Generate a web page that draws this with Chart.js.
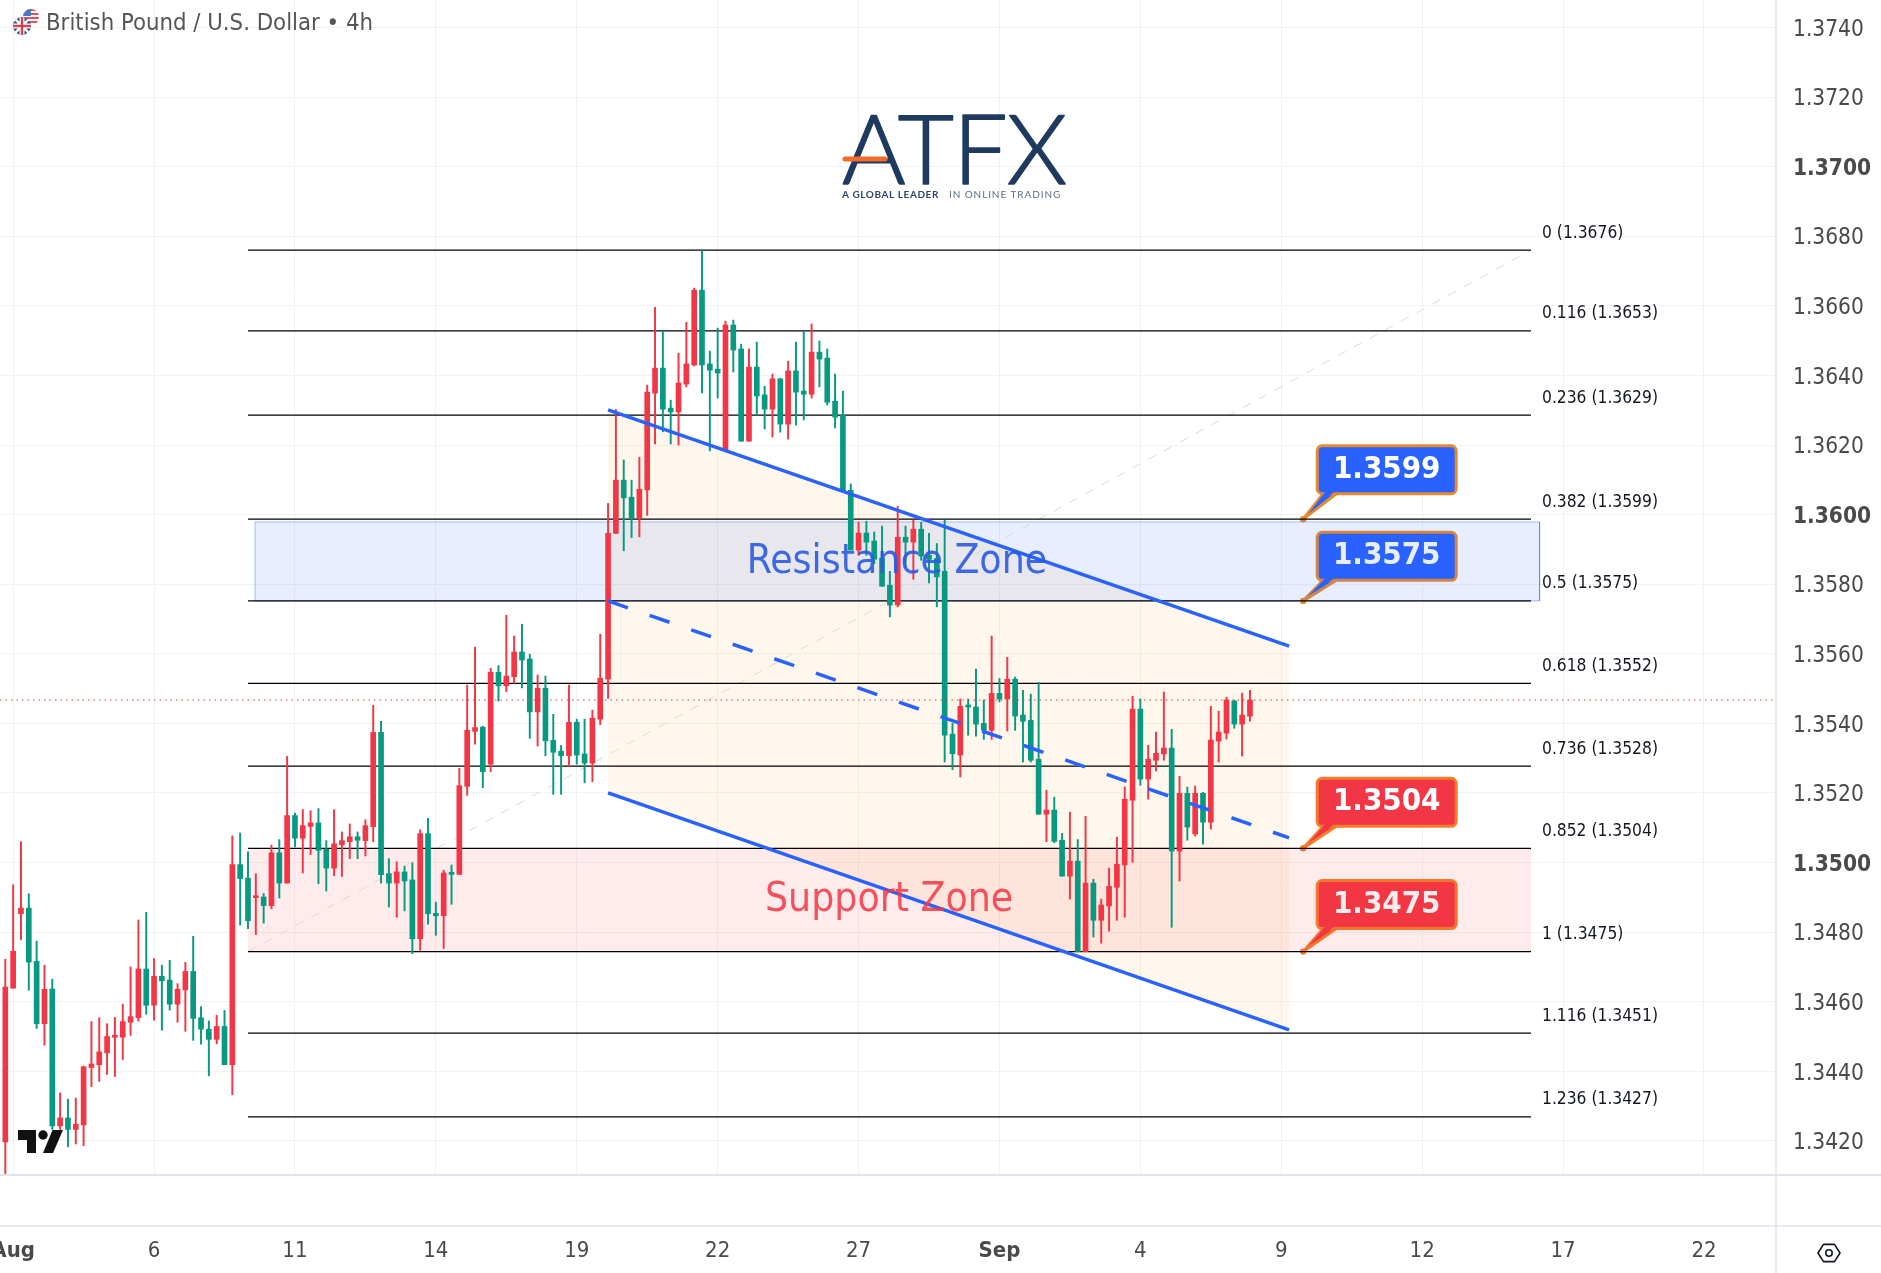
<!DOCTYPE html>
<html>
<head>
<meta charset="utf-8">
<title>British Pound / U.S. Dollar 4h</title>
<script src="https://cdn.jsdelivr.net/npm/chart.js@4"></script>
<style>
  html, body { margin: 0; padding: 0; background: #fff; }
  canvas { display: block; }
</style>
</head>
<body>
<canvas id="fx" width="1881" height="1273"></canvas>
<script>
/* candles, one 4h bar per index */
const opens = [
  1.34197,1.34639,1.34853,1.34869,1.34716,1.34537,1.34636,1.34243,1.34266,1.34233,
  1.34246,1.34411,1.34419,1.34453,1.34498,1.34498,1.34541,1.34554,1.34694,1.34590,
  1.34673,1.34662,1.34593,1.34634,1.34687,1.34554,1.34521,1.34492,1.34529,1.34419,
  1.34994,1.34955,1.34899,1.34901,1.34876,1.35028,1.34941,1.35135,1.35070,1.35104,
  1.35114,1.35038,1.34984,1.35051,1.35060,1.35074,1.35063,1.35103,1.35374,1.34968,
  1.34941,1.34973,1.34950,1.34781,1.35083,1.34854,1.34847,1.34969,1.34966,1.35219,
  1.35377,1.35389,1.35283,1.35547,1.35508,1.35534,1.35605,1.35585,1.35433,1.35501,
  1.35351,1.35320,1.35307,1.35403,1.35312,1.35286,1.35412,1.35527,1.35946,1.36099,
  1.36050,1.35989,1.36071,1.36349,1.36421,1.36306,1.36295,1.36375,1.36430,1.36645,
  1.36433,1.36418,1.36185,1.36545,1.36476,1.36211,1.36424,1.36344,1.36303,1.36390,
  1.36260,1.36413,1.36355,1.36346,1.36467,1.36450,1.36326,1.36286,1.36070,1.35898,
  1.35947,1.35924,1.35875,1.35797,1.35740,1.35935,1.35921,1.35958,1.35883,1.35874,
  1.35837,1.35369,1.35309,1.35449,1.35447,1.35400,1.35380,1.35486,1.35470,1.35527,
  1.35424,1.35409,1.35297,1.35139,1.35151,1.35064,1.34961,1.35004,1.34744,1.34941,
  1.34834,1.34875,1.34929,1.34993,1.35179,1.35441,1.35240,1.35294,1.35312,1.35329,
  1.35033,1.35199,1.35082,1.35199,1.35116,1.35349,1.35372,1.35464,1.35398,1.35421
];
const closes = [
  1.34642,1.34745,1.34869,1.34714,1.34537,1.34636,1.34243,1.34266,1.34233,1.34248,
  1.34413,1.34421,1.34456,1.34500,1.34500,1.34543,1.34557,1.34694,1.34590,1.34673,
  1.34660,1.34593,1.34636,1.34687,1.34552,1.34521,1.34492,1.34529,1.34419,1.34994,
  1.34954,1.34833,1.34901,1.34876,1.35028,1.34941,1.35135,1.35070,1.35106,1.35114,
  1.35035,1.34984,1.35054,1.35063,1.35074,1.35064,1.35106,1.35374,1.34965,1.34941,
  1.34973,1.34947,1.34781,1.35083,1.34853,1.34847,1.34970,1.34966,1.35221,1.35380,
  1.35388,1.35261,1.35547,1.35508,1.35536,1.35605,1.35582,1.35433,1.35501,1.35350,
  1.35317,1.35307,1.35403,1.35309,1.35286,1.35415,1.35530,1.35946,1.36099,1.36048,
  1.35989,1.36073,1.36352,1.36421,1.36303,1.36295,1.36378,1.36433,1.36645,1.36430,
  1.36415,1.36407,1.36545,1.36473,1.36211,1.36424,1.36341,1.36303,1.36390,1.36260,
  1.36413,1.36352,1.36346,1.36467,1.36447,1.36323,1.36280,1.36068,1.35898,1.35947,
  1.35921,1.35872,1.35794,1.35740,1.35935,1.35921,1.35958,1.35881,1.35871,1.35821,
  1.35366,1.35313,1.35449,1.35447,1.35398,1.35380,1.35486,1.35470,1.35527,1.35421,
  1.35406,1.35294,1.35139,1.35151,1.35061,1.34961,1.35004,1.34744,1.34941,1.34834,
  1.34878,1.34932,1.34995,1.35182,1.35441,1.35240,1.35297,1.35314,1.35329,1.35033,
  1.35199,1.35102,1.35199,1.35116,1.35352,1.35375,1.35467,1.35398,1.35424,1.35467
];
const highs = [
  1.34722,1.34936,1.35060,1.34910,1.34774,1.34705,1.34665,1.34338,1.34320,1.34323,
  1.34415,1.34543,1.34554,1.34537,1.34555,1.34593,1.34700,1.34835,1.34857,1.34724,
  1.34705,1.34719,1.34652,1.34713,1.34788,1.34586,1.34545,1.34561,1.34575,1.35077,
  1.35085,1.35031,1.34968,1.34911,1.35050,1.35066,1.35305,1.35142,1.35152,1.35149,
  1.35155,1.35063,1.35152,1.35088,1.35111,1.35088,1.35123,1.35452,1.35406,1.35011,
  1.35002,1.34990,1.34999,1.35094,1.35127,1.34886,1.34978,1.34993,1.35271,1.35510,
  1.35619,1.35392,1.35558,1.35566,1.35711,1.35651,1.35685,1.35599,1.35539,1.35536,
  1.35426,1.35337,1.35510,1.35412,1.35412,1.35438,1.35656,1.36032,1.36302,1.36157,
  1.36099,1.36165,1.36372,1.36596,1.36527,1.36329,1.36464,1.36553,1.36651,1.36758,
  1.36470,1.36536,1.36556,1.36559,1.36490,1.36476,1.36496,1.36369,1.36404,1.36392,
  1.36441,1.36496,1.36527,1.36548,1.36499,1.36476,1.36404,1.36355,1.36088,1.35978,
  1.35981,1.35950,1.35967,1.35837,1.36024,1.35967,1.35984,1.35978,1.35946,1.35917,
  1.35984,1.35400,1.35470,1.35470,1.35556,1.35467,1.35651,1.35529,1.35590,1.35533,
  1.35495,1.35484,1.35518,1.35208,1.35188,1.35084,1.35145,1.35066,1.35133,1.34952,
  1.34895,1.34984,1.35073,1.35217,1.35478,1.35470,1.35337,1.35375,1.35490,1.35383,
  1.35248,1.35217,1.35220,1.35202,1.35449,1.35435,1.35475,1.35467,1.35487,1.35495
];
const lows = [
  1.34099,1.34639,1.34778,1.34633,1.34523,1.34475,1.34233,1.34233,1.34183,1.34191,
  1.34186,1.34356,1.34371,1.34391,1.34385,1.34434,1.34503,1.34544,1.34564,1.34547,
  1.34518,1.34576,1.34541,1.34515,1.34489,1.34478,1.34387,1.34479,1.34419,1.34333,
  1.34820,1.34810,1.34793,1.34826,1.34867,1.34898,1.34941,1.35045,1.34970,1.35023,
  1.34939,1.34918,1.34962,1.34960,1.35011,1.35011,1.35019,1.35060,1.34941,1.34872,
  1.34843,1.34861,1.34738,1.34748,1.34823,1.34791,1.34753,1.34880,1.34966,1.35193,
  1.35340,1.35215,1.35261,1.35464,1.35491,1.35515,1.35502,1.35357,1.35335,1.35307,
  1.35196,1.35196,1.35277,1.35283,1.35229,1.35232,1.35396,1.35472,1.35946,1.35896,
  1.35934,1.35936,1.35998,1.36203,1.36238,1.36203,1.36200,1.36367,1.36427,1.36350,
  1.36183,1.36335,1.36185,1.36410,1.36211,1.36211,1.36286,1.36246,1.36223,1.36237,
  1.36217,1.36257,1.36272,1.36335,1.36367,1.36315,1.36249,1.36068,1.35898,1.35883,
  1.35883,1.35859,1.35794,1.35706,1.35735,1.35850,1.35814,1.35869,1.35804,1.35735,
  1.35289,1.35267,1.35246,1.35366,1.35363,1.35354,1.35354,1.35462,1.35378,1.35380,
  1.35289,1.35289,1.35139,1.35060,1.35057,1.34961,1.34895,1.34744,1.34744,1.34786,
  1.34768,1.34803,1.34834,1.34843,1.35001,1.35222,1.35182,1.35263,1.35294,1.34814,
  1.34947,1.35064,1.35076,1.35053,1.35096,1.35289,1.35355,1.35386,1.35306,1.35406
];

/* axes */
const yTicks = [1.342,1.344,1.346,1.348,1.350,1.352,1.354,1.356,1.358,1.360,1.362,1.364,1.366,1.368,1.370,1.372,1.374];
const yBold = [1.350, 1.360, 1.370];
const xTicks = [1,19,37,55,73,91,109,127,145,163,181,199,217];
const xLabels = ["Aug","6","11","14","19","22","27","Sep","4","9","12","17","22"];
const xBold = ["Aug","Sep"];

/* fibonacci retracement */
const fibRatios = ["0","0.116","0.236","0.382","0.5","0.618","0.736","0.852","1","1.116","1.236"];
const fibShown = ["1.3676","1.3653","1.3629","1.3599","1.3575","1.3552","1.3528","1.3504","1.3475","1.3451","1.3427"];
const fibPrices = [1.3676,1.36528,1.36286,1.35987,1.35752,1.35515,1.35277,1.35041,1.34744,1.3451,1.34269];
const fibFrom = 31, fibTo = 194.9;

/* drawings */
const lastPrice = 1.35467;
const channelX = [77, 164];
const channelTop = [1.36301, 1.35622];
const channelMid = [1.35752, 1.35071];
const channelBot = [1.352, 1.34519];
const resistX = [31.9, 196];
const resistY = [1.35979, 1.35752];
const supportX = [31, 194.9];
const supportY = [1.35041, 1.34744];
const calloutLabels = ["1.3599","1.3575","1.3504","1.3475"];
const calloutPrices = [1.35987,1.35752,1.35041,1.34744];
const calloutFill = ["#2962ff","#2962ff","#f23645","#f23645"];
const calloutLine = ["#e8892f","#e8892f","#f57c28","#f57c28"];
const calloutX = 165.8;

const UP = "#f23645", DOWN = "#089981";
const FONT = '"DejaVu Sans Condensed", "DejaVu Sans", sans-serif';
const candleColors = opens.map((o, i) => closes[i] >= o ? UP : DOWN);

function seg(xs, ys) {
  return xs.map((x, i) => ({ x: x, y: ys[i] }));
}
function lineSet(data, color, width, order, extra) {
  return Object.assign({
    type: "line", data: data, borderColor: color, borderWidth: width,
    pointRadius: 0, tension: 0, fill: false, order: order
  }, extra || {});
}

/* ---------- datasets, higher order is painted first ---------- */
const datasets = [
  // channel background, filled from top to bottom line
  lineSet(seg(channelX, channelTop), "rgba(0,0,0,0)", 0, 60, { fill: "+1", backgroundColor: "rgba(255,152,0,0.08)" }),
  lineSet(seg(channelX, channelBot), "rgba(0,0,0,0)", 0, 60),
  // zones
  lineSet(seg(supportX, [supportY[0], supportY[0]]), "rgba(0,0,0,0)", 0, 55, { fill: "+1", backgroundColor: "rgba(242,54,69,0.1)" }),
  lineSet(seg(supportX, [supportY[1], supportY[1]]), "rgba(0,0,0,0)", 0, 55),
  lineSet(seg(resistX, [resistY[0], resistY[0]]), "rgba(0,0,0,0)", 0, 54, { fill: "+1", backgroundColor: "rgba(41,98,255,0.11)" }),
  lineSet(seg(resistX, [resistY[1], resistY[1]]), "rgba(0,0,0,0)", 0, 54),
  lineSet(seg([resistX[0], resistX[1], resistX[1], resistX[0], resistX[0]],
              [resistY[0], resistY[0], resistY[1], resistY[1], resistY[0]]), "rgba(41,98,255,0.4)", 1, 53),
  // fib trend line
  lineSet(seg([fibFrom, fibTo], [fibPrices[8], fibPrices[0]]), "#d9d9d9", 1, 52, { borderDash: [9, 9] })
];
fibPrices.forEach(p => {
  datasets.push(lineSet(seg([fibFrom, fibTo], [p, p]), "#000", 1.3, 50));
});
datasets.push({
  type: "bar", grouped: false, order: 20, barThickness: 1.3,
  data: lows.map((l, i) => ({ x: i, y: [l, highs[i]] })),
  backgroundColor: candleColors, borderWidth: 0
});
datasets.push({
  type: "bar", grouped: false, order: 19, barThickness: 5, minBarLength: 2,
  data: opens.map((o, i) => ({ x: i, y: [o, closes[i]] })),
  backgroundColor: candleColors, borderWidth: 0
});
datasets.push(lineSet(seg([-0.68, 226.2], [lastPrice, lastPrice]), "#f23645", 1, 10, { borderDash: [1.5, 4] }));
datasets.push(lineSet(seg(channelX, channelTop), "#2962ff", 3.5, 5));
datasets.push(lineSet(seg(channelX, channelMid), "#2962ff", 3.5, 5, { borderDash: [21, 23] }));
datasets.push(lineSet(seg(channelX, channelBot), "#2962ff", 3.5, 5));

/* ---------- callouts sit under the zones, so the tint falls on them ---------- */
function roundBox(ctx, x, y, w, h, r) {
  ctx.beginPath();
  ctx.roundRect(x, y, w, h, r);
}

const boxNudge = [-2.4, 2.4, 1, 0];

const calloutPlugin = {
  id: "callouts",
  beforeDatasetsDraw(chart) {
    const ctx = chart.ctx, sx = chart.scales.x, sy = chart.scales.y;
    ctx.save();
    calloutLabels.forEach((txt, i) => {
      const ax = sx.getPixelForValue(calloutX), ay = sy.getPixelForValue(calloutPrices[i]);
      const bx = ax + 14, by = ay - 71 + boxNudge[i], bw = 139, bh = 48;
      // tail
      ctx.beginPath();
      ctx.moveTo(ax, ay);
      ctx.lineTo(bx + 6, by + bh);
      ctx.lineTo(bx + 19, by + bh);
      ctx.closePath();
      ctx.fillStyle = calloutFill[i];
      ctx.strokeStyle = calloutLine[i];
      ctx.lineWidth = 3;
      ctx.lineJoin = "round";
      ctx.fill();
      ctx.stroke();
      // box
      roundBox(ctx, bx, by, bw, bh, 5);
      ctx.fill();
      ctx.stroke();
      ctx.beginPath();
      ctx.moveTo(ax + 5, ay - 5);
      ctx.lineTo(bx + 8, by + bh - 2);
      ctx.lineTo(bx + 17, by + bh - 2);
      ctx.closePath();
      ctx.fill();
      // anchor dot
      ctx.beginPath();
      ctx.arc(ax, ay, 3.2, 0, Math.PI * 2);
      ctx.fillStyle = calloutLine[i];
      ctx.fill();
      // value
      ctx.fillStyle = "#fff";
      ctx.font = "bold 31px " + FONT;
      ctx.textAlign = "center";
      ctx.textBaseline = "middle";
      ctx.fillText(txt, bx + bw / 2, by + bh / 2);
    });
    ctx.restore();
  }
};

/* ---------- text and chrome on top of everything ---------- */
const overlayPlugin = {
  id: "overlay",
  afterDraw(chart) {
    const ctx = chart.ctx, sx = chart.scales.x, sy = chart.scales.y;
    const W = chart.width, H = chart.height;
    const right = chart.chartArea.right, bottom = chart.chartArea.bottom;
    ctx.save();

    // fib labels
    ctx.fillStyle = "#131722";
    ctx.font = "17.3px " + FONT;
    ctx.textAlign = "left";
    ctx.textBaseline = "middle";
    fibRatios.forEach((r, i) => {
      ctx.fillText(r + " (" + fibShown[i] + ")", 1542, sy.getPixelForValue(fibPrices[i]) - 17);
    });

    // zone names
    ctx.textAlign = "center";
    ctx.font = "40.5px " + FONT;
    ctx.fillStyle = "rgba(41,90,225,0.9)";
    ctx.fillText("Resistance Zone", sx.getPixelForValue(113.9), sy.getPixelForValue(1.35861));
    ctx.fillStyle = "rgba(242,54,69,0.85)";
    ctx.fillText("Support Zone", sx.getPixelForValue(112.9), sy.getPixelForValue(1.34892));

    // title
    ctx.textAlign = "left";
    ctx.font = "23.7px " + FONT;
    ctx.fillStyle = "#555";
    ctx.fillText("British Pound / U.S. Dollar \u2022 4h", 46, 24);
    drawFlags(ctx);

    // ATFX logo
    ctx.fillStyle = "#1f3a5f";
    ctx.strokeStyle = "#1f3a5f";
    ctx.lineWidth = 1.6;
    ctx.lineJoin = "round";
    ctx.font = "300 97px Lato";
    ctx.textAlign = "left";
    ctx.textBaseline = "alphabetic";
    ctx.letterSpacing = "-1px";
    ctx.fillText("ATFX", 842, 184);
    ctx.strokeText("ATFX", 842, 184);
    ctx.letterSpacing = "0px";
    ctx.strokeStyle = "#f26b2a";
    ctx.lineWidth = 5;
    ctx.lineCap = "round";
    ctx.beginPath();
    ctx.moveTo(845, 159);
    ctx.lineTo(885, 159);
    ctx.stroke();
    ctx.textBaseline = "middle";
    ctx.letterSpacing = "0.57px";
    ctx.font = "bold 10px Lato";
    ctx.fillStyle = "#2f4767";
    ctx.fillText("A GLOBAL LEADER", 842, 195);
    ctx.letterSpacing = "0.9px";
    ctx.font = "10px Lato";
    ctx.fillStyle = "#5c6f88";
    ctx.fillText("IN ONLINE TRADING", 949, 195);
    ctx.letterSpacing = "0px";

    // TradingView mark
    ctx.fillStyle = "#111";
    ctx.beginPath();
    ctx.moveTo(18, 1130); ctx.lineTo(36, 1130); ctx.lineTo(36, 1153);
    ctx.lineTo(27, 1153); ctx.lineTo(27, 1140); ctx.lineTo(18, 1140);
    ctx.closePath();
    ctx.fill();
    ctx.beginPath();
    ctx.arc(43, 1135, 4.7, 0, Math.PI * 2);
    ctx.fill();
    ctx.beginPath();
    ctx.moveTo(52.5, 1130); ctx.lineTo(63, 1130); ctx.lineTo(53, 1153); ctx.lineTo(43, 1153);
    ctx.closePath();
    ctx.fill();

    // frame
    ctx.strokeStyle = "#e0e3eb";
    ctx.lineWidth = 2;
    ctx.beginPath();
    ctx.moveTo(0, bottom); ctx.lineTo(W, bottom);
    ctx.stroke();
    ctx.lineWidth = 1.5;
    ctx.beginPath();
    ctx.moveTo(0, 1226); ctx.lineTo(W, 1226);
    ctx.moveTo(right, 0); ctx.lineTo(right, H);
    ctx.stroke();

    // settings hexagon
    ctx.strokeStyle = "#131722";
    ctx.lineWidth = 1.6;
    ctx.beginPath();
    for (let a = 0; a < 6; a++) {
      const t = a * Math.PI / 3;
      const px = 1829 + 11 * Math.cos(t), py = 1253 + 10 * Math.sin(t);
      if (a === 0) ctx.moveTo(px, py); else ctx.lineTo(px, py);
    }
    ctx.closePath();
    ctx.stroke();
    ctx.beginPath();
    ctx.arc(1829, 1253, 3.2, 0, Math.PI * 2);
    ctx.stroke();
    ctx.restore();
  }
};

function drawFlags(ctx) {
  // US
  ctx.save();
  ctx.beginPath();
  ctx.arc(31, 17, 8, 0, Math.PI * 2);
  ctx.clip();
  ctx.fillStyle = "#fff";
  ctx.fillRect(22, 8, 18, 18);
  ctx.fillStyle = "#e8505b";
  for (let i = 0; i < 4; i++) ctx.fillRect(22, 9 + i * 4, 18, 2);
  ctx.fillStyle = "#4a79c9";
  ctx.fillRect(22, 8, 9, 8);
  ctx.restore();
  // UK
  ctx.save();
  ctx.beginPath();
  ctx.arc(22, 26, 9, 0, Math.PI * 2);
  ctx.clip();
  ctx.fillStyle = "#2f4a8f";
  ctx.fillRect(12, 16, 20, 20);
  ctx.strokeStyle = "#fff";
  ctx.lineWidth = 2.5;
  ctx.beginPath();
  ctx.moveTo(13, 17); ctx.lineTo(31, 35);
  ctx.moveTo(31, 17); ctx.lineTo(13, 35);
  ctx.stroke();
  ctx.fillStyle = "#fff";
  ctx.fillRect(12, 23.5, 20, 5);
  ctx.fillRect(19.5, 16, 5, 20);
  ctx.fillStyle = "#d8404a";
  ctx.fillRect(12, 24.8, 20, 2.4);
  ctx.fillRect(20.8, 16, 2.4, 20);
  ctx.restore();
}

/* ---------- chart ---------- */
new Chart(document.getElementById("fx").getContext("2d"), {
  type: "bar",
  data: { datasets: datasets },
  plugins: [calloutPlugin, overlayPlugin],
  options: {
    responsive: false,
    animation: false,
    devicePixelRatio: 1,
    layout: { padding: 0 },
    plugins: { legend: { display: false }, tooltip: { enabled: false } },
    scales: {
      x: {
        type: "linear",
        min: -0.68,
        max: 226.2,
        offset: false,
        grid: { color: "#f2f2f3", lineWidth: 1, drawTicks: false, offset: false },
        border: { display: false },
        afterBuildTicks(s) { s.ticks = xTicks.map(v => ({ value: v })); },
        afterFit(s) { s.height = 98; s.paddingLeft = 0; s.paddingRight = 0; },
        ticks: {
          autoSkip: false,
          maxRotation: 0,
          padding: 63,
          color: "#4a4a4a",
          font: ctx => ({
            family: FONT, size: 22,
            weight: xBold.includes(xLabels[ctx.index]) ? "bold" : "normal"
          }),
          callback(v, i) { return xLabels[i]; }
        }
      },
      y: {
        position: "right",
        min: 1.34102,
        max: 1.37479,
        grid: { color: "#f2f2f3", lineWidth: 1, drawTicks: false },
        border: { display: false },
        afterBuildTicks(s) { s.ticks = yTicks.map(v => ({ value: v })); },
        afterFit(s) { s.width = 105; s.paddingTop = 0; s.paddingBottom = 0; },
        ticks: {
          padding: 17,
          labelOffset: 2.4,
          color: "#4a4a4a",
          font: ctx => ({
            family: FONT, size: 22.5,
            weight: yBold.includes(yTicks[ctx.index]) ? "bold" : "normal"
          }),
          callback(v) { return v.toFixed(4); }
        }
      }
    }
  }
});
</script>
</body>
</html>
